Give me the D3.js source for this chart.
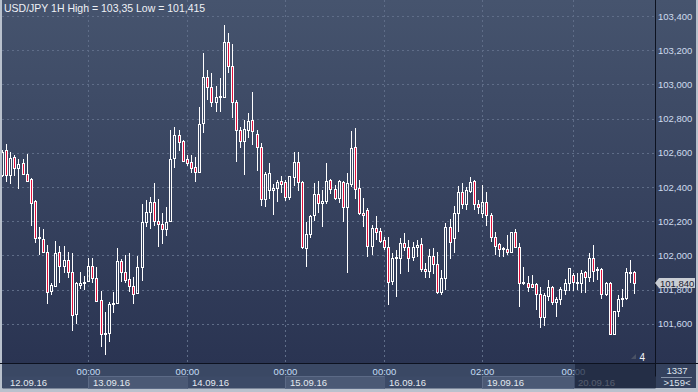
<!DOCTYPE html>
<html>
<head>
<meta charset="utf-8">
<script src="https://cdn.jsdelivr.net/npm/d3@7"></script>
<style>
  html, body { margin: 0; padding: 0; background: #b9c1cd; }
  svg { display: block; font-family: "Liberation Sans", Arial, sans-serif; }
</style>
</head>
<body>
<div class="graph"></div>
<script>
// trading days shown, first hour of each session and number of 1H bars
var days = ['12.09.16', '13.09.16', '14.09.16', '15.09.16', '16.09.16', '19.09.16', '20.09.16'];
var dayFirstHour = [3, 0, 0, 0, 0, 2, 0];
var dayBars = [21, 24, 24, 24, 24, 22, 16];

var open = [102.470, 102.616, 102.470, 102.575, 102.511, 102.540, 102.476, 102.447, 102.318, 102.102,
  102.096, 102.020, 101.792, 101.821, 102.020, 101.938, 101.973, 101.903, 101.657, 101.827,
  101.839, 101.850, 101.938, 101.868, 101.739, 101.540, 101.546, 101.716, 101.722, 101.967,
  101.903, 101.862, 101.821, 101.780, 101.932, 102.195, 102.254, 102.312, 102.201, 102.184,
  102.154, 102.201, 102.570, 102.704, 102.669, 102.564, 102.546, 102.517, 102.488, 102.774,
  103.043, 102.985, 102.897, 102.926, 102.926, 103.248, 103.108, 102.897, 102.733, 102.669,
  102.733, 102.792, 102.710, 102.634, 102.330, 102.382, 102.382, 102.394, 102.435, 102.429,
  102.342, 102.458, 102.546, 102.429, 102.043, 102.125, 102.236, 102.359, 102.306, 102.318,
  102.441, 102.388, 102.336, 102.429, 102.283, 102.418, 102.634, 102.394, 102.248, 102.266,
  102.055, 102.160, 102.143, 102.090, 102.049, 101.850, 101.985, 101.985, 102.073, 102.049,
  101.991, 102.049, 102.067, 101.920, 101.909, 101.996, 101.950, 101.786, 101.868, 102.166,
  102.102, 102.248, 102.371, 102.301, 102.377, 102.435, 102.301, 102.248, 102.312, 102.236,
  102.108, 102.067, 102.037, 102.037, 102.020, 102.137, 102.049, 101.839, 101.839, 101.833,
  101.833, 101.774, 101.640, 101.763, 101.815, 101.728, 101.745, 101.798, 101.839, 101.885,
  101.839, 101.839, 101.903, 101.874, 101.985, 101.915, 101.920, 101.774, 101.839, 101.540,
  101.675, 101.745, 101.751, 101.897, 101.903];

var high = [102.616, 102.651, 102.605, 102.587, 102.564, 102.564, 102.593, 102.453, 102.324, 102.166,
  102.154, 102.061, 101.839, 102.084, 102.055, 102.055, 102.020, 102.014, 101.844, 101.903,
  101.880, 101.985, 101.985, 101.932, 101.792, 101.669, 101.728, 101.786, 102.043, 101.979,
  102.002, 102.014, 101.874, 101.996, 102.301, 102.324, 102.342, 102.423, 102.330, 102.248,
  102.283, 102.733, 102.751, 102.733, 102.675, 102.587, 102.587, 102.575, 102.868, 103.184,
  103.084, 103.067, 102.991, 103.037, 103.350, 103.301, 103.236, 102.909, 102.751, 102.792,
  102.833, 102.956, 102.733, 102.657, 102.488, 102.540, 102.418, 102.441, 102.464, 102.441,
  102.464, 102.605, 102.605, 102.435, 102.195, 102.236, 102.423, 102.435, 102.382, 102.540,
  102.447, 102.412, 102.441, 102.435, 102.482, 102.727, 102.745, 102.441, 102.336, 102.277,
  102.178, 102.230, 102.160, 102.108, 102.108, 102.014, 102.032, 102.102, 102.131, 102.090,
  102.078, 102.090, 102.102, 101.956, 102.037, 102.043, 102.020, 101.915, 102.189, 102.213,
  102.289, 102.406, 102.423, 102.400, 102.458, 102.441, 102.324, 102.412, 102.371, 102.248,
  102.137, 102.073, 102.049, 102.119, 102.137, 102.154, 102.073, 101.932, 101.880, 101.885,
  101.839, 101.815, 101.780, 101.856, 101.821, 101.757, 101.815, 101.862, 101.926, 101.897,
  101.897, 101.915, 101.909, 102.014, 102.061, 101.932, 101.926, 101.844, 101.844, 101.675,
  101.768, 101.804, 101.926, 101.973, 101.909];

var low = [102.458, 102.429, 102.418, 102.464, 102.388, 102.470, 102.429, 102.172, 102.073, 102.000,
  102.014, 101.716, 101.768, 101.815, 101.839, 101.897, 101.868, 101.558, 101.599, 101.804,
  101.798, 101.844, 101.839, 101.728, 101.464, 101.415, 101.494, 101.663, 101.716, 101.844,
  101.839, 101.786, 101.716, 101.774, 101.850, 102.166, 102.154, 102.172, 102.049, 102.067,
  102.113, 102.195, 102.511, 102.611, 102.546, 102.523, 102.482, 102.429, 102.482, 102.716,
  102.909, 102.868, 102.839, 102.839, 102.920, 103.067, 102.804, 102.546, 102.628, 102.470,
  102.687, 102.646, 102.494, 102.289, 102.283, 102.330, 102.236, 102.312, 102.365, 102.318,
  102.324, 102.406, 102.377, 102.037, 101.932, 102.102, 102.201, 102.248, 102.166, 102.301,
  102.359, 102.324, 102.306, 102.195, 101.897, 102.400, 102.330, 102.236, 102.166, 101.991,
  102.002, 102.090, 102.073, 102.032, 101.710, 101.827, 101.757, 101.891, 102.026, 101.903,
  101.967, 101.991, 101.903, 101.868, 101.868, 101.891, 101.774, 101.768, 101.798, 101.979,
  102.014, 102.137, 102.271, 102.266, 102.365, 102.266, 102.242, 102.219, 102.172, 102.078,
  102.002, 101.991, 101.991, 102.002, 102.014, 102.049, 101.698, 101.827, 101.786, 101.810,
  101.681, 101.575, 101.587, 101.733, 101.710, 101.640, 101.710, 101.768, 101.792, 101.792,
  101.798, 101.780, 101.780, 101.844, 101.844, 101.856, 101.745, 101.763, 101.534, 101.534,
  101.640, 101.698, 101.739, 101.839, 101.774];

var close = [102.605, 102.470, 102.570, 102.511, 102.535, 102.476, 102.435, 102.306, 102.102, 102.108,
  102.020, 101.786, 101.827, 102.014, 101.938, 101.973, 101.903, 101.651, 101.839, 101.839,
  101.844, 101.938, 101.868, 101.733, 101.540, 101.546, 101.716, 101.722, 101.967, 101.903,
  101.856, 101.821, 101.774, 101.932, 102.195, 102.254, 102.312, 102.201, 102.184, 102.154,
  102.195, 102.564, 102.704, 102.663, 102.552, 102.540, 102.511, 102.488, 102.768, 103.043,
  102.985, 102.897, 102.926, 102.932, 103.248, 103.108, 102.897, 102.733, 102.669, 102.739,
  102.786, 102.727, 102.634, 102.330, 102.476, 102.482, 102.394, 102.429, 102.418, 102.342,
  102.464, 102.546, 102.429, 102.049, 102.125, 102.230, 102.359, 102.306, 102.318, 102.435,
  102.388, 102.336, 102.435, 102.283, 102.423, 102.628, 102.388, 102.248, 102.236, 102.055,
  102.160, 102.137, 102.084, 102.049, 101.844, 101.985, 101.991, 102.073, 102.049, 101.985,
  102.049, 102.061, 101.920, 101.909, 101.996, 101.950, 101.786, 101.868, 102.166, 102.078,
  102.248, 102.371, 102.301, 102.382, 102.429, 102.301, 102.283, 102.312, 102.236, 102.108,
  102.055, 102.037, 102.043, 102.020, 102.137, 102.049, 101.839, 101.842, 101.815, 101.815,
  101.774, 101.640, 101.768, 101.815, 101.728, 101.745, 101.804, 101.839, 101.926, 101.844,
  101.844, 101.897, 101.874, 101.985, 101.909, 101.920, 101.774, 101.839, 101.540, 101.675,
  101.745, 101.751, 101.903, 101.903, 101.840];

var priceTicks = [101.6, 101.8, 102.0, 102.2, 102.4, 102.6, 102.8, 103.0, 103.2, 103.4];
var title = 'USD/JPY 1H High = 103,35 Low = 101,415';
var lastPrice = 101.840;

var W = 698, H = 392;
var plotL = 2, plotR = 655, plotB = 363, axisB = 388;

// bars with their day and hour
var bars = [];
days.forEach(function (d, di) {
  for (var k = 0; k < dayBars[di]; k++) {
    bars.push({ day: di, hour: dayFirstHour[di] + k });
  }
});
bars.forEach(function (b, i) {
  b.i = i; b.o = open[i]; b.h = high[i]; b.l = low[i]; b.c = close[i];
});

var x = d3.scaleLinear().domain([0, bars.length - 1]).range([2, 634.3]);
var y = d3.scaleLinear().domain([101.4, 103.4]).range([358, 16]);

var ru = d3.formatLocale({ decimal: ',', thousands: ' ', grouping: [3], currency: ['', ''] });
var fmt = ru.format('.3f');

var svg = d3.select('.graph').append('svg').attr('width', W).attr('height', H);

var defs = svg.append('defs');
var grad = defs.append('linearGradient').attr('id', 'bg').attr('x1', 0).attr('y1', 0).attr('x2', 0).attr('y2', 1);
grad.append('stop').attr('offset', '0%').attr('stop-color', '#46546e');
grad.append('stop').attr('offset', '100%').attr('stop-color', '#2a3452');
defs.append('clipPath').attr('id', 'plotclip').append('rect')
  .attr('x', plotL).attr('y', 0).attr('width', plotR - plotL).attr('height', plotB);

// frame + background
svg.append('rect').attr('width', W).attr('height', H).attr('fill', '#b9c1cd');
svg.append('rect').attr('x', plotL).attr('y', 0).attr('width', W - 4).attr('height', plotB).attr('fill', 'url(#bg)');

// day boundaries: first bar of each day
var dayStarts = days.map(function (d, di) {
  return bars.filter(function (b) { return b.day === di; })[0];
});
var gridDays = dayStarts.slice(1);

var grid = svg.append('g').attr('stroke', '#5f6d88').attr('stroke-dasharray', '2,3').attr('stroke-width', 1);
grid.selectAll('line.h')
  .data(priceTicks)
  .enter().append('line')
  .attr('x1', plotL).attr('x2', plotR)
  .attr('y1', function (d) { return Math.round(y(d)) + 0.5; })
  .attr('y2', function (d) { return Math.round(y(d)) + 0.5; });
grid.selectAll('line.v')
  .data(gridDays)
  .enter().append('line')
  .attr('x1', function (d) { return Math.round(x(d.i)) + 0.5; })
  .attr('x2', function (d) { return Math.round(x(d.i)) + 0.5; })
  .attr('y1', 0).attr('y2', plotB);

svg.append('text')
  .attr('x', 4).attr('y', 12)
  .attr('font-size', '10.5px').attr('fill', '#eef1f6')
  .text(title);

// candles
var cg = svg.append('g').attr('clip-path', 'url(#plotclip)');
var candle = cg.selectAll('g.candle')
  .data(bars)
  .enter().append('g')
  .attr('class', 'candle');

function col(d) { return Math.round(x(d.i)); }
function bTop(d) { return Math.round(y(Math.max(d.o, d.c))); }
function bBot(d) { return Math.max(Math.round(y(Math.min(d.o, d.c))), bTop(d) + 1); }

candle.append('line')
  .attr('x1', function (d) { return col(d) + 0.5; })
  .attr('x2', function (d) { return col(d) + 0.5; })
  .attr('y1', function (d) { return Math.round(y(d.h)); })
  .attr('y2', function (d) { return bTop(d); })
  .attr('stroke', '#ffffff');
candle.append('line')
  .attr('x1', function (d) { return col(d) + 0.5; })
  .attr('x2', function (d) { return col(d) + 0.5; })
  .attr('y1', function (d) { return bBot(d) + 1; })
  .attr('y2', function (d) { return Math.max(Math.round(y(d.l)), bBot(d) + 1); })
  .attr('stroke', '#ffffff');
candle.append('rect')
  .attr('x', function (d) { return col(d) - 0.5; })
  .attr('y', function (d) { return bTop(d) + 0.5; })
  .attr('width', 2)
  .attr('height', function (d) { return bBot(d) - bTop(d); })
  .attr('fill', function (d) { return d.c < d.o ? '#e3103c' : 'none'; })
  .attr('stroke', '#ffffff')
  .attr('stroke-width', 1);

// right price axis
var yAxis = d3.axisRight(y)
  .tickValues(priceTicks)
  .tickSize(0)
  .tickPadding(3)
  .tickFormat(fmt);
var ya = svg.append('g').attr('transform', 'translate(' + plotR + ',0)').call(yAxis);
ya.select('.domain').remove();
ya.selectAll('text').attr('fill', '#cfdbee').attr('font-size', '9.5px')
  .attr('font-family', '"Liberation Sans", Arial, sans-serif');

svg.append('line')
  .attr('x1', plotR + 0.5).attr('x2', plotR + 0.5).attr('y1', 0).attr('y2', axisB)
  .attr('stroke', '#0d1220');

// bottom time axis
svg.append('rect').attr('x', plotL).attr('y', plotB).attr('width', plotR - plotL).attr('height', axisB - plotB)
  .attr('fill', '#3a4864');
svg.append('rect').attr('x', plotR + 1).attr('y', plotB).attr('width', W - plotR - 3).attr('height', axisB - plotB)
  .attr('fill', '#34415d');

var bandX = function (di) { return di === 0 ? plotL : Math.round(x(dayStarts[di].i)); };
var bandEnd = function (di) { return di === days.length - 1 ? plotR : bandX(di + 1); };

svg.append('g').selectAll('rect')
  .data(days)
  .enter().append('rect')
  .attr('x', function (d, i) { return bandX(i) + 0.5; })
  .attr('y', 376.5)
  .attr('width', function (d, i) { return bandEnd(i) - bandX(i); })
  .attr('height', 12)
  .attr('fill', function (d, i) { return i % 2 ? '#4b5975' : '#3c4a67'; })
  .attr('stroke', function (d, i) { return i % 2 ? '#5c6a86' : 'none'; });

svg.append('g').selectAll('text')
  .data(gridDays)
  .enter().append('text')
  .attr('x', function (d) { return Math.round(x(d.i)) + 0.5; })
  .attr('y', 375)
  .attr('text-anchor', 'middle')
  .attr('font-size', '9.5px')
  .attr('fill', '#c6dcf4')
  .text(function (d) { return d3.format('02')(d.hour) + ':00'; });

svg.append('g').selectAll('text')
  .data(days)
  .enter().append('text')
  .attr('x', function (d, i) { return i === 0 ? 10 : bandX(i) + 5; })
  .attr('y', 386)
  .attr('font-size', '9.5px')
  .attr('fill', '#e4e9f0')
  .text(function (d) { return d; });

// current day shading
var lastDay = days.length - 1;
svg.append('rect')
  .attr('x', bandX(lastDay) + 2).attr('y', plotB + 1)
  .attr('width', plotR - bandX(lastDay) - 2).attr('height', axisB - plotB - 1)
  .attr('fill', '#1c243a').attr('fill-opacity', 0.72);

svg.append('line')
  .attr('x1', 0).attr('x2', W).attr('y1', plotB + 0.5).attr('y2', plotB + 0.5)
  .attr('stroke', '#0d1220');

// corner info
svg.append('text').attr('x', 677).attr('y', 374).attr('text-anchor', 'middle')
  .attr('font-size', '9.5px').attr('fill', '#dfe5ee').text('1337');
svg.append('line').attr('x1', 661).attr('x2', 692).attr('y1', 377.5).attr('y2', 377.5)
  .attr('stroke', '#8895aa');
svg.append('text').attr('x', 677).attr('y', 386).attr('text-anchor', 'middle')
  .attr('font-size', '9.5px').attr('fill', '#dfe5ee').text('>159<');

svg.append('path').attr('d', 'M631,359 L636,354 L636,359 Z').attr('fill', '#4a5265');
svg.append('text').attr('x', 645).attr('y', 361).attr('text-anchor', 'end')
  .attr('font-size', '10px').attr('fill', '#f2f4f8').text('4');

// last price tag
var ty = Math.round(y(lastPrice));
svg.append('path')
  .attr('d', 'M655,' + ty + ' L659,' + (ty - 5) + ' L695,' + (ty - 5) + ' L695,' + (ty + 5) + ' L659,' + (ty + 5) + ' Z')
  .attr('fill', '#c9cdd4');
svg.append('text').attr('x', 660).attr('y', ty + 3.5)
  .attr('font-size', '9.5px').attr('fill', '#1a2030').text(fmt(lastPrice));
</script>
</body>
</html>
